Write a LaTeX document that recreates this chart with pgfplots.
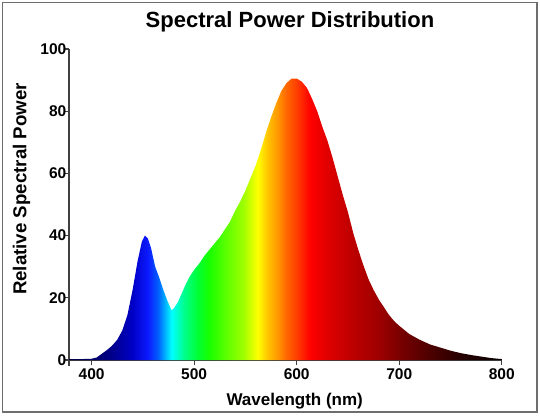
\documentclass[border=0pt]{standalone}
\usepackage{fontspec}
\setmainfont{Liberation Sans}
\usepackage{pgfplots}
\usepackage{pgfplotstable}
\pgfplotsset{compat=1.18}

% horizontal shading: 25bp <-> 378 nm, 75bp <-> 800 nm
\pgfdeclarehorizontalshading{spectrum}{100bp}{
rgb(0bp)=(0,0,0.25);
rgb(25bp)=(0,0,0.25);
rgb(27.6bp)=(0,0,0.40);
rgb(29.98bp)=(0,0,0.55);
rgb(32.35bp)=(0,0,0.78);
rgb(34.12bp)=(0.05,0.1,1);
rgb(35.31bp)=(0,0.38,1);
rgb(36.85bp)=(0,1,1);
rgb(38.27bp)=(0,1,0.55);
rgb(39.9bp)=(0,1,0.2);
rgb(41.2bp)=(0.1,1,0);
rgb(43.6bp)=(0.42,1,0);
rgb(45.14bp)=(0.62,1,0);
rgb(46.8bp)=(1,1,0);
rgb(47.98bp)=(1,0.76,0);
rgb(49.05bp)=(1,0.6,0);
rgb(50.12bp)=(1,0.4,0);
rgb(51.3bp)=(1,0.24,0);
rgb(52.84bp)=(1,0,0);
rgb(54.86bp)=(0.88,0,0);
rgb(57.23bp)=(0.76,0,0);
rgb(60.78bp)=(0.62,0,0);
rgb(63.15bp)=(0.48,0,0);
rgb(66.71bp)=(0.30,0,0);
rgb(70.26bp)=(0.15,0,0);
rgb(75bp)=(0.03,0,0);
rgb(100bp)=(0.03,0,0)}

\pgfplotstableread{
nm y
378 0.3
390 0.3
400 0.4
405 0.8
410 2.0
415 3.2
420 4.6
425 6.5
430 9.5
435 14.5
440 22.5
445 32
449 38
452 40
455 39
458 36
462 30
466 26.5
470 22.5
474 19
478 16
480 16.5
484 18.5
488 21.5
492 24.5
496 27
500 29
505 31
510 33.5
515 35.5
520 37.5
525 39.5
530 42
535 44.5
540 48
545 51
550 54.5
555 58.5
560 62.5
565 67.5
570 73
575 78
580 82.5
585 86.5
590 89
595 90.5
600 90.5
605 89.5
610 87.5
615 84
620 80
625 75
630 70.5
635 65
640 59
645 53
650 47.5
655 41
660 35.5
665 30.5
670 26
675 22.5
680 19.5
685 17
690 14.5
695 12.5
700 11
710 8.3
720 6.5
730 5
740 4
750 3
760 2.2
770 1.6
780 1.1
790 0.6
800 0.3
}\spd

\definecolor{axgray}{RGB}{64,64,64}
\definecolor{framegray}{RGB}{110,110,110}

\begin{document}
\begin{tikzpicture}
\useasboundingbox (0,0) rectangle (540pt,416pt);
\begin{axis}[
  at={(69pt,56pt)}, anchor=south west,
  scale only axis, width=432.8pt, height=311pt,
  xmin=378, xmax=800, ymin=0, ymax=100,
  axis x line*=bottom, axis y line*=left,
  axis line style={line width=1.3pt, axgray},
  xtick={400,500,600,700,800}, ytick={0,20,40,60,80,100},
  tick align=outside, major tick length=5pt,
  tick style={line width=1.2pt, axgray},
  /pgf/number format/assume math mode=true,
  ticklabel style={font=\fontsize{15.5}{16}\selectfont\bfseries},
  xticklabel style={inner sep=0pt, yshift=-3pt},
  yticklabel style={inner sep=0pt, xshift=2.5pt},
  title={Spectral Power Distribution},
  title style={font=\fontsize{22}{24}\selectfont\bfseries, at={(axis description cs:0.5106,1.05)}, anchor=base},
  xlabel={Wavelength (nm)},
  xlabel style={font=\fontsize{17}{20}\selectfont\bfseries, at={(axis description cs:0.5215,-0.1447)}, anchor=base},
  ylabel={Relative Spectral Power},
  ylabel style={font=\fontsize{18.7}{20}\selectfont\bfseries, at={(axis description cs:-0.0982,0.55)}, anchor=base},
  clip=false,
]
\addplot[draw=none, shading=spectrum, shading angle=0] table[x=nm, y=y] {\spd} \closedcycle;
\draw[line width=1.3pt, axgray] (axis cs:378,0) -- ([yshift=-6pt]axis cs:378,0);
\end{axis}
\draw[draw=framegray, line width=1.2pt] (2.5pt,4pt) rectangle (537pt,413.5pt);
\end{tikzpicture}
\end{document}
